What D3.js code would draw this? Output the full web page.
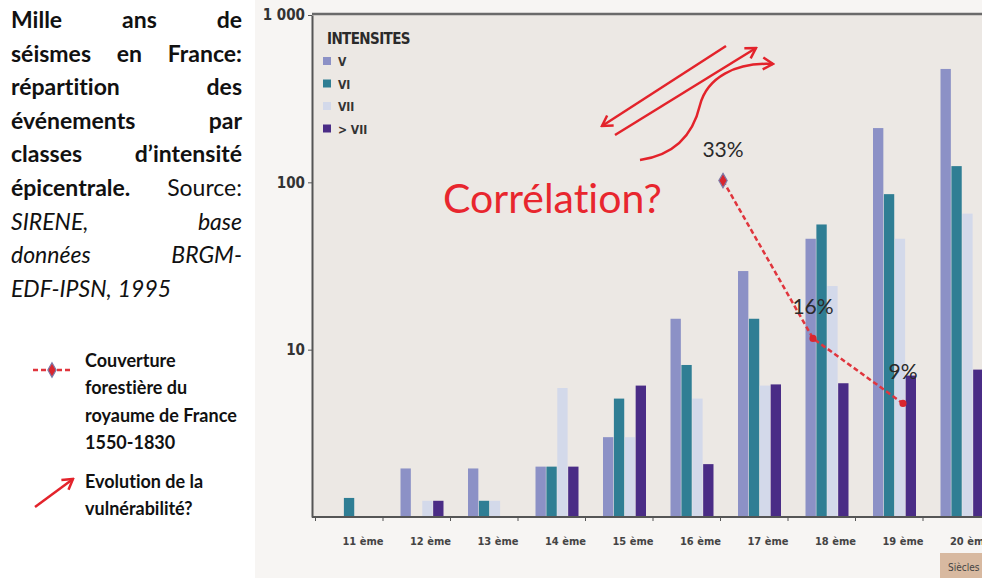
<!DOCTYPE html>
<head>
  <meta charset="utf-8">
  <script src="https://d3js.org/d3.v7.min.js"></script>
  <style>
    body { margin:0; background:#fff; }
    svg { display:block; }
    text { font-variant-ligatures: none; font-feature-settings: "liga" 0, "clig" 0; }
    .note { font-family: Lato, "Open Sans", sans-serif; fill:#111; }
    .axis text { font-family: "Liberation Sans Narrow", "DejaVu Sans Condensed", sans-serif; font-weight:bold; fill:#333; }
    .axis path, .axis line { stroke:#555; }
    .bar-legend text { font-family: "Liberation Sans Narrow", "DejaVu Sans Condensed", sans-serif; font-weight:bold; fill:#333; }
    .forest-line { fill:none; stroke:#e0353d; stroke-width:2.5; stroke-dasharray:5,3; }
    .red-arrow { fill:none; stroke:#e3232b; stroke-width:2.5; }
  </style>
</head>
<body>
  <script>
    // ---- data ----
    var centuries = ["11 ème", "12 ème", "13 ème", "14 ème", "15 ème", "16 ème", "17 ème", "18 ème", "19 ème", "20 ème"];
    var intensityNames = ["V", "VI", "VII", "> VII"];
    var countV       = [0,   1.95, 1.95, 2.0, 3.0, 15.3, 29.5, 46, 211, 476];
    var countVI      = [1.3, 0,    1.25, 2.0, 5.1, 8.1,  15.3, 56, 85,  125];
    var countVII     = [0,   1.25, 1.25, 5.9, 3.0, 5.1,  6.1,  24, 46,  65];
    var countOverVII = [0,   1.25, 0,    2.0, 6.1, 2.07, 6.2,  6.3, 7,  7.6];
    var yTickValues = [10, 100, 1000];
    var yTickLabels = ["10", "100", "1 000"];

    var forestYears  = [1550, 1690, 1830];
    var forestShare  = [33, 16, 9];
    var forestLabels = ["33%", "16%", "9%"];

    var titleLines = [
      [["Mille", "b"], ["ans", "b"], ["de", "b"]],
      [["séismes", "b"], ["en", "b"], ["France:", "b"]],
      [["répartition", "b"], ["des", "b"]],
      [["événements", "b"], ["par", "b"]],
      [["classes", "b"], ["d’intensité", "b"]],
      [["épicentrale.", "b"], ["Source:", "r"]],
      [["SIRENE,", "i"], ["base", "i"]],
      [["données", "i"], ["BRGM-", "i"]],
      [["EDF-IPSN,", "i"], ["1995", "i"]]
    ];
    var forestLegend = ["Couverture", "forestière du", "royaume de France", "1550-1830"];
    var arrowLegend = ["Evolution de la", "vulnérabilité?"];

    var colours = ["#8c91c6", "#2f7e94", "#d3d9ea", "#4a2c86"];
    var red = "#e3232b";

    var width = 982, height = 578;
    var plot = {left: 312, top: 15, right: 982, bottom: 517};

    var svg = d3.select("body").append("svg")
      .attr("width", width)
      .attr("height", height);

    var defs = svg.append("defs");
    defs.append("marker")
      .attr("id", "chevron")
      .attr("viewBox", "-12 -8 14 16")
      .attr("markerUnits", "userSpaceOnUse")
      .attr("markerWidth", 14)
      .attr("markerHeight", 16)
      .attr("refX", 0)
      .attr("refY", 0)
      .attr("orient", "auto")
      .append("path")
      .attr("d", "M-10,-6 L0,0 L-10,6")
      .attr("fill", "none")
      .attr("stroke", red)
      .attr("stroke-width", 2.5);

    // scanned chart background
    svg.append("rect")
      .attr("x", 255).attr("y", 0)
      .attr("width", width - 255).attr("height", height)
      .attr("fill", "#f7f5f3");
    svg.append("rect")
      .attr("x", plot.left).attr("y", plot.top)
      .attr("width", plot.right - plot.left).attr("height", plot.bottom - plot.top)
      .attr("fill", "#ece8e4");

    // scales
    var x = d3.scaleBand()
      .domain(centuries)
      .range([315, 990]);

    var xInner = d3.scaleBand()
      .domain(intensityNames)
      .range([18, 61])
      .paddingInner(0.05);

    var y = d3.scaleLog()
      .domain([1, 1000])
      .range([plot.bottom, plot.top]);

    var series = [countV, countVI, countVII, countOverVII];
    var rows = [];
    centuries.forEach(function(c, i) {
      intensityNames.forEach(function(s, j) {
        if (series[j][i] > 0) rows.push({century: c, intensity: s, value: series[j][i], k: j});
      });
    });

    svg.append("g")
      .attr("class", "bars")
      .selectAll("rect")
      .data(rows)
      .enter().append("rect")
      .attr("x", function(d) { return x(d.century) + xInner(d.intensity); })
      .attr("y", function(d) { return y(d.value); })
      .attr("width", xInner.bandwidth())
      .attr("height", function(d) { return y(1) - y(d.value); })
      .attr("fill", function(d) { return colours[d.k]; });

    // axes
    var yAxis = d3.axisLeft(y)
      .tickValues(yTickValues)
      .tickFormat(function(d, i) { return yTickLabels[i]; })
      .tickSize(4)
      .tickSizeOuter(0)
      .tickPadding(3);

    var gy = svg.append("g")
      .attr("class", "axis")
      .attr("transform", "translate(" + plot.left + ",0)")
      .call(yAxis);
    gy.select(".domain").attr("stroke-width", 2);
    gy.selectAll("text").style("font-size", "15px");

    svg.append("line")
      .attr("x1", plot.left).attr("x2", plot.right)
      .attr("y1", plot.top - 1).attr("y2", plot.top - 1)
      .attr("stroke", "#6a6a6a").attr("stroke-width", 2.5);

    var xBoundary = d3.scaleLinear()
      .domain([0, centuries.length])
      .range(x.range());

    var gxTicks = svg.append("g")
      .attr("class", "axis")
      .attr("transform", "translate(0," + plot.bottom + ")")
      .call(d3.axisBottom(xBoundary).ticks(centuries.length).tickFormat("").tickSize(4).tickSizeOuter(0));
    gxTicks.select(".domain").attr("d", "M" + plot.left + ",0H" + plot.right).attr("stroke-width", 2);

    var gx = svg.append("g")
      .attr("class", "axis")
      .attr("transform", "translate(0," + plot.bottom + ")")
      .call(d3.axisBottom(x).tickSize(0).tickPadding(20));
    gx.select(".domain").remove();
    gx.selectAll("text")
      .attr("dx", x.bandwidth() * 0.21)
      .style("font-size", "11px")
      .style("fill", "#444");

    // intensity legend
    var leg = svg.append("g").attr("class", "bar-legend");
    leg.append("text")
      .attr("x", 327).attr("y", 44)
      .style("font-size", "15px")
      .style("letter-spacing", "-0.6px")
      .style("fill", "#2a2a2a")
      .text("INTENSITES");
    var legItems = leg.selectAll("g.item")
      .data(intensityNames)
      .enter().append("g")
      .attr("class", "item")
      .attr("transform", function(d, i) { return "translate(323," + (57 + i * 22.5) + ")"; });
    legItems.append("rect")
      .attr("width", 8).attr("height", 8)
      .attr("fill", function(d, i) { return colours[i]; });
    legItems.append("text")
      .attr("x", 15).attr("y", 9)
      .style("font-size", "12px")
      .text(function(d) { return d; });

    // forest cover overlay
    var xYear = d3.scaleLinear().domain([1550, 1830]).range([723, 903]);
    var yForest = d3.scaleLinear().domain([0, 35]).range([487, 162]);
    var forest = forestYears.map(function(yr, i) { return {year: yr, share: forestShare[i], label: forestLabels[i]}; });

    svg.append("path")
      .datum(forest)
      .attr("class", "forest-line")
      .attr("d", d3.line()
        .x(function(d) { return xYear(d.year); })
        .y(function(d) { return yForest(d.share); }));

    svg.selectAll("path.forest-pt")
      .data(forest)
      .enter().append("path")
      .attr("class", "forest-pt")
      .attr("transform", function(d) { return "translate(" + xYear(d.year) + "," + yForest(d.share) + ")"; })
      .attr("d", function(d, i) { return d3.symbol().type(i === 0 ? d3.symbolDiamond : d3.symbolCircle).size(i === 0 ? 60 : 40)(); })
      .attr("fill", "#d9262e")
      .attr("stroke", function(d, i) { return i === 0 ? "#7d7aa8" : "none"; })
      .attr("stroke-width", 1.2);

    svg.selectAll("text.forest-label")
      .data(forest)
      .enter().append("text")
      .attr("class", "forest-label note")
      .attr("x", function(d) { return xYear(d.year); })
      .attr("y", function(d) { return yForest(d.share) - 24; })
      .attr("text-anchor", "middle")
      .style("font-size", "21px")
      .style("fill", "#2a2a2a")
      .text(function(d) { return d.label; });

    // red hand-drawn annotations
    var arrows = [
      "M726,46 L602,126",
      "M615,135 L756,48",
      "M640,160 C675,155 693,135 700,105 C707,78 735,62 773,64"
    ];
    svg.selectAll("path.red-arrow")
      .data(arrows)
      .enter().append("path")
      .attr("class", "red-arrow")
      .attr("d", function(d) { return d; })
      .attr("marker-end", "url(#chevron)");

    svg.append("text")
      .attr("x", 443).attr("y", 213)
      .style("font-family", "Lato, 'Open Sans', sans-serif")
      .style("font-size", "41px")
      .style("fill", "#e8262e")
      .text("Corrélation?");

    // "Siècles" tab bottom right
    svg.append("rect")
      .attr("x", 940).attr("y", 553)
      .attr("width", 50).attr("height", 30)
      .attr("fill", "#d8b9a0");
    svg.append("text")
      .attr("x", 948).attr("y", 571)
      .style("font-family", "'Liberation Sans Narrow', 'DejaVu Sans Condensed', sans-serif")
      .style("font-size", "10px")
      .style("fill", "#444")
      .text("Siècles");

    // justified caption on the left
    var caption = svg.append("g").attr("class", "note");
    var styleOf = {
      b: {weight: "bold", style: "normal"},
      r: {weight: "normal", style: "normal"},
      i: {weight: "normal", style: "italic"}
    };
    titleLines.forEach(function(words, li) {
      var base = 28 + li * 33.6;
      var nodes = words.map(function(w) {
        return caption.append("text")
          .attr("y", base)
          .style("font-size", "23px")
          .style("font-weight", styleOf[w[1]].weight)
          .style("font-style", styleOf[w[1]].style)
          .text(w[0]);
      });
      var widths = nodes.map(function(n) { return n.node().getComputedTextLength(); });
      var last = li === titleLines.length - 1;
      var gap = last ? 6 : (242 - 11 - d3.sum(widths)) / (words.length - 1);
      var cx = 11;
      nodes.forEach(function(n, k) {
        n.attr("x", cx);
        cx += widths[k] + gap;
      });
    });

    // left legend
    svg.append("line")
      .attr("x1", 33).attr("x2", 72)
      .attr("y1", 370).attr("y2", 370)
      .attr("class", "forest-line");
    svg.append("path")
      .attr("transform", "translate(52,370)")
      .attr("d", d3.symbol().type(d3.symbolDiamond).size(60)())
      .attr("fill", "#d9262e")
      .attr("stroke", "#7d7aa8")
      .attr("stroke-width", 1.2);

    var legText = svg.append("g").attr("class", "note")
      .style("font-size", "18px")
      .style("font-weight", "bold");
    legText.selectAll("text.f")
      .data(forestLegend)
      .enter().append("text")
      .attr("class", "f")
      .attr("x", 85)
      .attr("y", function(d, i) { return 367 + i * 27.3; })
      .text(function(d) { return d; });
    legText.selectAll("text.a")
      .data(arrowLegend)
      .enter().append("text")
      .attr("class", "a")
      .attr("x", 85)
      .attr("y", function(d, i) { return 488 + i * 27.3; })
      .text(function(d) { return d; });

    svg.append("path")
      .attr("class", "red-arrow")
      .attr("d", "M35,507 L73,479")
      .attr("marker-end", "url(#chevron)");
  </script>
</body>
